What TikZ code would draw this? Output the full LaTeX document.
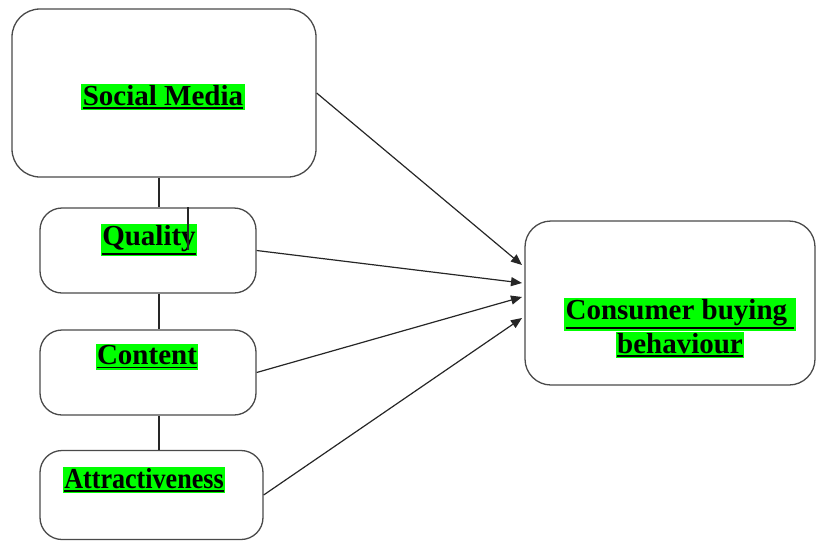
\documentclass[tikz,border=0pt]{standalone}
\usepackage{fontspec}
\usepackage{graphicx}
\setmainfont{Liberation Serif}
\usetikzlibrary{arrows.meta,calc}
\definecolor{hlgreen}{HTML}{00FF00}
\definecolor{edgegray}{HTML}{4A4A4A}
\newcommand{\ulbar}[1]{\vtop{\hbox{#1}\kern1.5pt\hrule height1.8pt}}
\newcommand{\hl}[1]{{\setlength{\fboxsep}{1.5pt}\colorbox{hlgreen}{\ulbar{#1}}}}
\begin{document}
\begin{tikzpicture}[
        x=1pt, y=-1pt,
        box/.style={draw=edgegray, line width=1.3pt, rounded corners=22pt, fill=white, inner sep=0pt},
        tag/.style={font=\bfseries\fontsize{29}{31}\selectfont, inner sep=0pt, align=center},
        link/.style={draw=black!85, line width=1.2pt},
        feed/.style={link, -{Triangle[length=11pt,width=9pt]}}
      ]
      \useasboundingbox (0,0) rectangle (817,542);
      \node[box, minimum width=304pt, minimum height=168pt, rounded corners=28pt] (social) at (164,93) {};
      \node[box, minimum width=216pt, minimum height=85pt] (quality) at (148,250.5) {};
      \node[box, minimum width=216pt, minimum height=85pt] (content) at (148,372.5) {};
      \node[box, minimum width=223pt, minimum height=89pt] (attract) at (151.5,495) {};
      \node[box, minimum width=290pt, minimum height=164pt, rounded corners=26pt] (consumer) at (670,303) {};

      \node[tag] (socialtxt) at (163,97) {\hl{Social Media}};
      \node[tag] (qualitytxt) at (149,240) {\hl{Quality}};
      \node[tag] (contenttxt) at (147,357) {\hl{Content}};
      \node[tag] (attracttxt) at (144,480) {\scalebox{0.9}[1]{\hl{Attractiveness}}};
      \node[tag] (consumertxt) at (680,328) {\hl{Consumer buying\ }\\\hl{behaviour}};

      \coordinate (spine) at (159,0);
      \coordinate (tick) at (188,250);
      \coordinate (in1) at (522,265);
      \coordinate (in2) at (522,283);
      \coordinate (in3) at (522,297);
      \coordinate (in4) at (522,318);

      \draw[link] (social.south -| spine) -- (quality.north -| spine);
      \draw[link] (quality.south -| spine) -- (content.north -| spine);
      \draw[link] (content.south -| spine) -- (attract.north -| spine);
      \draw[link] (quality.north -| tick) -- (tick);

      \draw[feed] (social.east) -- (in1);
      \draw[feed] (quality.east) -- (in2);
      \draw[feed] (content.east) -- (in3);
      \draw[feed] (attract.east) -- (in4);
      \end{tikzpicture}
\end{document}
